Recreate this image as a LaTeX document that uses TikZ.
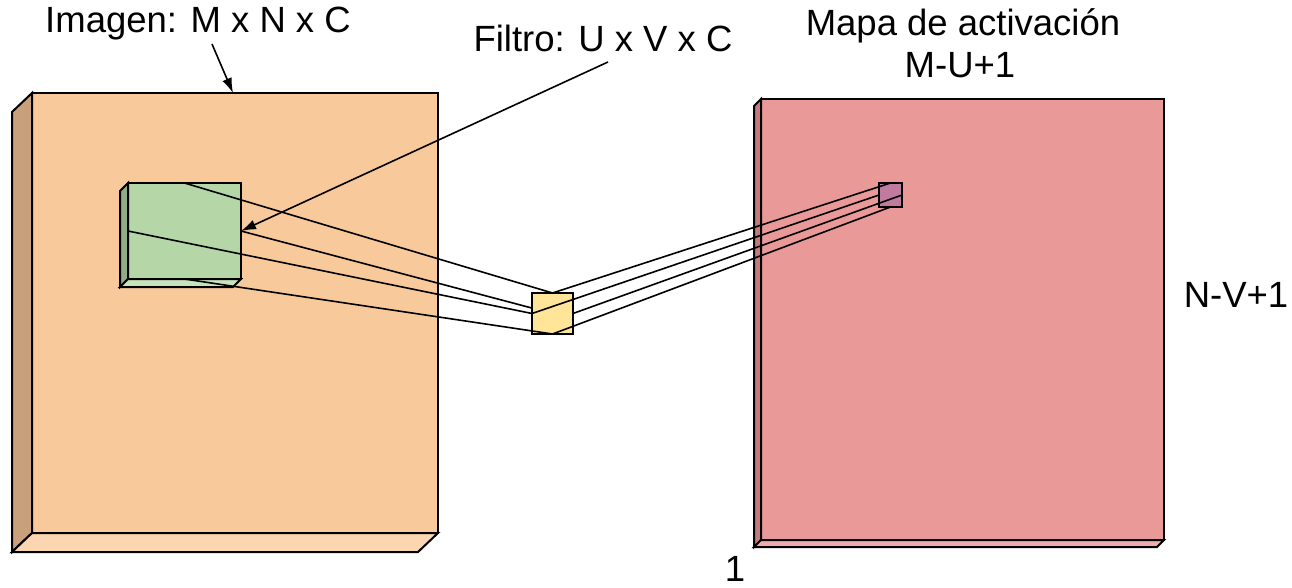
\documentclass[tikz,border=0pt]{standalone}
\usepackage{fontspec}
\setmainfont{Liberation Sans}
\usetikzlibrary{arrows.meta}
\definecolor{imgF}{HTML}{F8C99B}
\definecolor{imgS}{HTML}{C9A07C}
\definecolor{imgB}{HTML}{FBD6B0}
\definecolor{grnF}{HTML}{B5D7A8}
\definecolor{grnS}{HTML}{8FAD86}
\definecolor{grnB}{HTML}{C6E3BB}
\definecolor{ylw}{HTML}{FFE599}
\definecolor{redF}{HTML}{EA9999}
\definecolor{redS}{HTML}{C47B7B}
\definecolor{redB}{HTML}{F0ABAB}
\definecolor{prp}{HTML}{C27BA0}
\tikzset{
  face/.style={draw=black, line width=2pt, inner sep=0pt, outer sep=0pt, rectangle},
  edge/.style={draw=black, line width=2pt, line join=miter},
  ray/.style={draw=black, line width=1.6pt},
  pointer/.style={draw=black, line width=1.6pt, -{Latex[length=15pt,width=10pt]}},
  lbl/.style={font=\fontsize{36.5}{44}\selectfont, inner sep=0pt, anchor=base}
}
\begin{document}
\begin{tikzpicture}[x=1pt, y=-1pt]
\useasboundingbox (0,0) rectangle (1292,588);
% big image cuboid
\node[face, fill=imgF, minimum width=406pt, minimum height=440pt] (img) at (235,313) {};
\draw[edge, fill=imgS] (img.north west) -- ++(-20,19) -- ([shift={(-20,19)}]img.south west) -- (img.south west) -- cycle;
\draw[edge, fill=imgB] (img.south west) -- ++(-20,19) -- ([shift={(-20,19)}]img.south east) -- (img.south east) -- cycle;
% activation map cuboid
\node[face, fill=redF, minimum width=403pt, minimum height=441pt] (map) at (962.5,319.5) {};
\draw[edge, fill=redS] (map.north west) -- ++(-7,7) -- ([shift={(-7,7)}]map.south west) -- (map.south west) -- cycle;
\draw[edge, fill=redB] (map.south west) -- ++(-7,7) -- ([shift={(-7,7)}]map.south east) -- (map.south east) -- cycle;
% green receptive field
\node[face, fill=grnF, minimum width=113pt, minimum height=96pt] (grn) at (184.5,231) {};
\draw[edge, fill=grnS] (grn.north west) -- ++(-8,8) -- ([shift={(-8,8)}]grn.south west) -- (grn.south west) -- cycle;
\draw[edge, fill=grnB] (grn.south west) -- ++(-8,8) -- ([shift={(-8,8)}]grn.south east) -- (grn.south east) -- cycle;
% purple output cell
\node[face, fill=prp, minimum width=23pt, minimum height=24pt] (prp) at (890.5,195) {};
% hidden ray behind the filter
\draw[ray] (grn.east) -- (552.5,313.5);
% filter
\node[face, fill=ylw, minimum width=41pt, minimum height=41pt] (flt) at (552.5,313.5) {};
% rays
\draw[ray] (grn.north) -- (flt.north);
\draw[ray] (grn.west) -- (flt.west);
\draw[ray] (grn.south) -- (flt.south);
\draw[ray] (flt.north) -- (prp.north);
\draw[ray] (flt.west) -- (prp.west);
\draw[ray] (flt.east) -- (prp.east);
\draw[ray] (flt.south) -- (prp.south);
% labels
\node[lbl] (limg) at (198,33) {Imagen: M x N x C};
\node[lbl] (lflt) at (603,52) {Filtro: U x V x C};
\node[lbl] (lmap) at (963,36) {Mapa de activación};
\node[lbl] (lmu) at (960,78) {M-U+1};
\node[lbl] (lnv) at (1236,307) {N-V+1};
\node[lbl] (lone) at (735,581) {1};
\coordinate (aimg) at (212,44);
\coordinate (aflt) at (608,62);
\draw[pointer] (aimg) -- ([xshift=-2pt]img.north east -| 235,93);
\draw[pointer] (aflt) -- (grn.east);
\end{tikzpicture}
\end{document}
